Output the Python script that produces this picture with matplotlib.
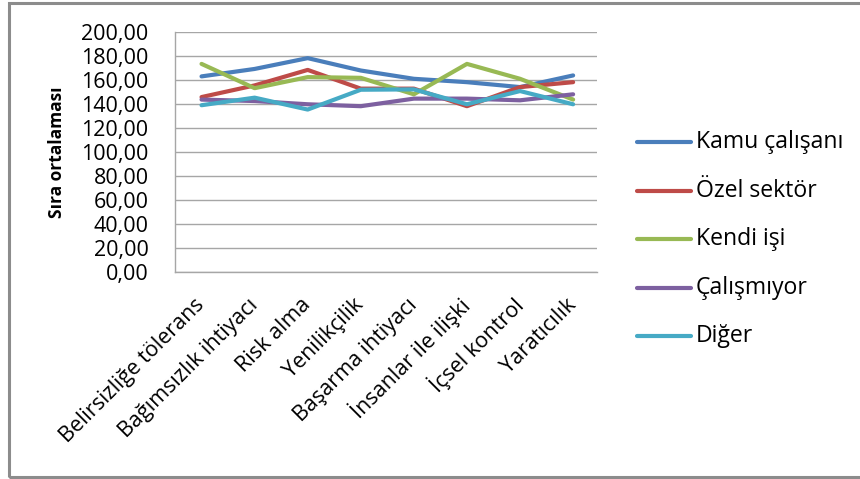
import matplotlib
matplotlib.use("Agg")
import matplotlib.pyplot as plt
import matplotlib.transforms as mtransforms
from matplotlib.patches import Rectangle
from matplotlib.lines import Line2D

plt.rcParams['font.family'] = ['Open Sans', 'DejaVu Sans']

categories = ["Belirsizliğe tölerans", "Bağımsızlık ihtiyacı", "Risk alma", "Yenilikçilik",
              "Başarma ihtiyacı", "İnsanlar ile ilişki", "İçsel kontrol", "Yaratıcılık"]
series_names = ["Kamu çalışanı", "Özel sektör", "Kendi işi", "Çalışmıyor", "Diğer"]
kamu = [162.8, 169.0, 178.0, 167.7, 160.8, 158.0, 153.9, 163.6]
ozel = [145.6, 155.3, 168.2, 152.6, 152.6, 138.0, 153.9, 158.0]
kendi = [173.2, 153.0, 162.2, 161.6, 147.9, 173.2, 160.8, 143.5]
calismiyor = [143.5, 142.3, 139.6, 138.0, 144.3, 144.3, 142.9, 147.9]
diger = [138.8, 145.1, 135.2, 151.7, 152.0, 139.6, 150.6, 139.6]
yticks = [0, 20, 40, 60, 80, 100, 120, 140, 160, 180, 200]
ytick_labels = ["0,00", "20,00", "40,00", "60,00", "80,00", "100,00", "120,00",
                "140,00", "160,00", "180,00", "200,00"]
colors = ["#4A7EBB", "#BE4B48", "#98B954", "#7D60A0", "#46AAC5"]

W, H = 860, 479
fig = plt.figure(figsize=(W / 100, H / 100), dpi=100)

# outer frame
fig.patches.append(Rectangle((8.5 / W, 2 / H), (W + 10) / W, (476 - 2) / H,
                             transform=fig.transFigure, fill=False,
                             edgecolor="#8C8C8C", linewidth=2.2, zorder=0))

ax = fig.add_axes([175 / W, 1 - 272 / H, (597 - 175) / W, (272 - 31.7) / H])
x = list(range(len(categories)))
for vals, name, c in zip([kamu, ozel, kendi, calismiyor, diger], series_names, colors):
    ax.plot(x, vals, color=c, linewidth=3.0, solid_capstyle='round', label=name, zorder=3)

ax.set_xlim(-0.5, 7.45)
ax.set_ylim(0, 200)
ax.set_yticks(yticks)
ax.set_yticklabels(ytick_labels, fontsize=15.5)
ax.tick_params(axis='y', length=0, pad=19)
ax.tick_params(axis='x', length=0)
ax.grid(axis='y', color="#A6A6A6", linewidth=1.0)
ax.set_axisbelow(True)
for s in ["top", "right"]:
    ax.spines[s].set_visible(False)
for s in ["left", "bottom"]:
    ax.spines[s].set_color("#A6A6A6")
    ax.spines[s].set_linewidth(1.0)

ax.set_xticks(x)
ax.set_xticklabels(categories, fontsize=15.5, rotation=45, ha='right', va='center',
                   rotation_mode='anchor')
offset = mtransforms.ScaledTranslation(0 / 100, -25 / 100, fig.dpi_scale_trans)
for lbl in ax.get_xticklabels():
    lbl.set_transform(lbl.get_transform() + offset)

fig.text(57 / W, 1 - 152 / H, "Sıra ortalaması", rotation=90, fontsize=12.5,
         fontweight='bold', ha='center', va='center')

# legend
leg_y = [142, 191, 239, 288, 336]
for name, c, yy in zip(series_names, colors, leg_y):
    fig.add_artist(Line2D([637 / W, 691 / W], [1 - yy / H, 1 - yy / H],
                          transform=fig.transFigure, color=c, linewidth=3.0,
                          solid_capstyle='round'))
    fig.text(696 / W, 1 - yy / H, name, fontsize=16.6, ha='left', va='center')

fig.savefig("out.png", dpi=100)
